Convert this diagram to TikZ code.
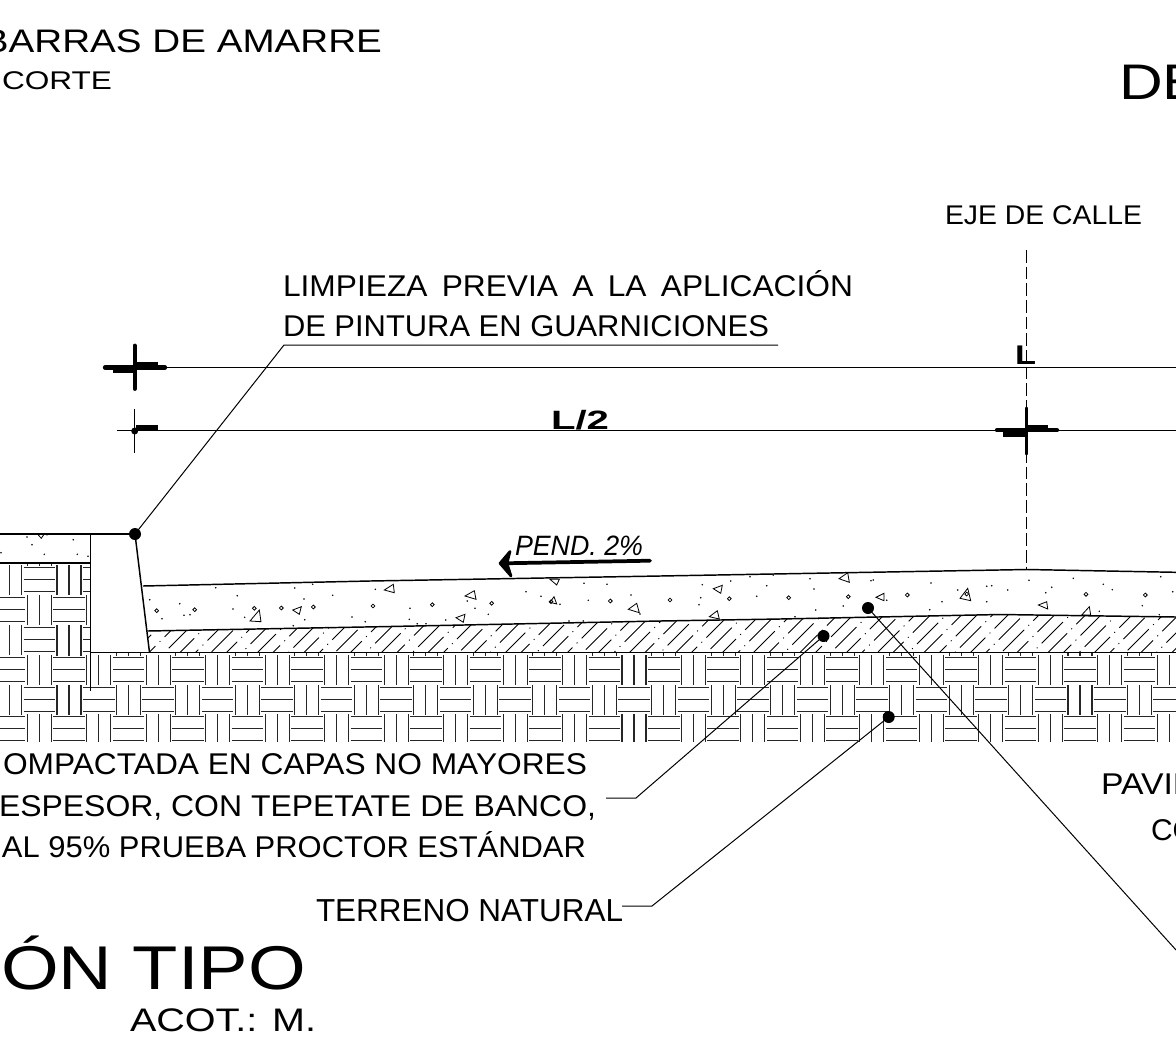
\documentclass[tikz,border=0pt]{standalone}
\usepackage{fontspec}
\usepackage{graphicx}
\setmainfont{Liberation Sans}
\newlength\twd
\newsavebox\tbox
\newcommand\tx[6]{%
  \pgfmathsetmacro\fs{#4*0.75}%
  \node[anchor=base west,inner sep=0pt,outer sep=0pt] (#1) at (#2,#3) {\fontsize{\fs pt}{\fs pt}\selectfont\sbox\tbox{#6}\setlength\twd{\wd\tbox}\pgfmathsetmacro\rr{#5*0.75/\twd}\scalebox{\rr}[1]{\usebox\tbox}};%
}
\newcommand\brickrow[2]{%
  \foreach \k in {0,...,20}{%
    \pgfmathsetmacro\X{#2+\k*59.47}%
    \foreach \d in {0,12,24}{\draw[brick] (\X+\d,#1) -- (\X+\d,#1+29.5);}%
    \foreach \d in {2.7,14.5,26.5}{\draw[brick] (\X+26,#1+\d) -- (\X+57.5,#1+\d);}%
  }%
}
\tikzset{
  brick/.style={line width=0.8pt,black!85},
  outline/.style={line width=1.1pt,black},
  leader/.style={line width=0.75pt,black},
  bullet/.style={circle,fill=black,inner sep=0pt,minimum size=9pt,outer sep=0pt},
  stone/.style={line width=0.6pt,black},
  pebble/.style={line width=0.6pt,black},
  dimline/.style={line width=0.8pt,black},
  tickbar/.style={line width=2.8pt,black,line cap=round},
}
\begin{document}
\begin{tikzpicture}[x=0.75pt,y=-0.75pt]
\useasboundingbox (0,0) rectangle (1176,1060);
\clip (0,0) rectangle (1176,1060);
\fill[white] (0,0) rectangle (1176,1060);
% brick pattern
\begin{scope}
  \clip (0,564) rectangle (90,655);
  \brickrow{565}{-2.47}
  \brickrow{595}{-32.17}
  \brickrow{625}{-2.47}
  \foreach \d in {0,12,24}{\draw[brick] (27.3+\d,563) -- (27.3+\d,566);}
\end{scope}
\begin{scope}
  \clip (0,652) rectangle (1176,741.5);
  \brickrow{655}{-32.17}
  \brickrow{685}{-2.47}
  \brickrow{714}{-32.17}
  \foreach \k in {1,...,20}{
    \pgfmathsetmacro\X{-2.47+\k*59.47}
    \foreach \d in {0,12,24}{\draw[brick] (\X+\d,652) -- (\X+\d,655.5);}
  }
\end{scope}
% hatch layer
\begin{scope}
  \clip (147.5,631) -- (380,626.7) -- (660,621) -- (780,619) -- (1000,614.5) -- (1176,617) -- (1176,652.5) -- (149.5,652.5) -- cycle;
  \foreach \k in {0,...,72}{
    \pgfmathsetmacro\xb{130+\k*15.5}
    \pgfmathsetmacro\ph{mod(\k*12,32.25)}
    \draw[line width=0.7pt,black,dash pattern=on 22.5pt off 4.5pt on 0.75pt off 4.5pt,dash phase=\ph pt] (\xb,656) -- (\xb+50,606);
  }
\end{scope}
% outlines
\draw[outline] (0,534) -- (135,534);
\draw[outline] (0,563) -- (90.5,563);
\draw[outline] (90.5,534) -- (90.5,691);
\draw[outline] (135,534) -- (149.5,652.5);
\draw[outline] (90.5,652.5) -- (1176,652.5);
\draw[outline] (143,586) -- (370,581) -- (660,576) -- (1027,569.5) -- (1176,572.3);
\draw[outline] (147.5,631) -- (380,626.7) -- (660,621) -- (780,619) -- (1000,614.5) -- (1176,617);
% pebbles
\foreach \x/\y in {156.7/610.7,194.7/609.7,254.3/608.3,281.3/608,313.3/607,373/606,432.3/604.7,491.7/603.3,551/601.7,610.3/601,670/600,729.3/598.7,788.7/597.7,848.3/596.7,907.3/595,966.7/594,1086/594.3,1145.3/595}
  {\draw[pebble] (\x,\y) circle[radius=1.9];}
% stones
\foreach \a/\b/\c/\d/\e/\f in {250/621/259.3/610/261/621.7,292.7/610/301.3/606.7/299.3/614.3,384.3/590/393.3/584.3/394.3/592.7,465/596/474.3/590.7/476/599.3,550/602.3/554/596.7/556.7/604,628.3/609.3/636.7/603.3/639.3/612.7,456/617.7/465/614.3/463.3/622.3,550/579.3/559.3/579.3/556.7/585,713.3/588.7/722.3/585.3/720.7/593.3,839/578.7/847.7/572.7/849.3/582.3,876/597.3/884/593.3/884/600.7,709.3/616.7/717.3/610.7/719.3/619,960/598.3/967.7/588.3/970.7/600.7,1038.3/605/1046.7/601.7/1047.7/609,1081.7/615/1089.3/606.7/1090.7/615,37.7/534.3/44/534.3/41.3/538.3}
  {\draw[stone] (\a,\b) -- (\c,\d) -- (\e,\f) -- cycle;}
% specks
\foreach \x/\y in {215.7/587.7,237.3/595.7,294.7/588,312.7/584.3,332.7/595.3,375.3/589.3,149.7/599.7,179.7/603.7,233/609,304/599,184/615.3,190/614.7,162/618.7,244.7/617.3,304.7/619.7,293.3/625.7,352/617,365.3/621.7,526/591.7,541/596.3,584/583.3,607/584.3,631/595,588.3/600.3,410/608.3,467.3/601,475/608.3,488.3/614.3,409.3/619.3,417.3/623.7,426/623.7,445.7/620,569/621,583.3/621,560/604.3,640/614,702.3/584.7,730.7/581,766.7/585.7,810/578.7,814/589,700.7/597.7,699/604.7,756.7/596.3,843.3/606,815.7/610,871/580.7,873.3/580,886.7/600.3,795/616.7,750/576.7,773.3/575,931/583,942/601.7,929.7/609.7,986.7/586.3,991.7/585.7,1007.7/590,986.7/601.7,1029/580.3,1045.7/592.7,1051.7/587.3,1073.3/578.3,1103.3/584.3,1112.3/589.7,1142.3/605.7,1160.7/576.7,1172.7/591.7,1099.3/611.3,957.7/590,1159.3/614.7,27/537,47/534.7,32/544.7,73.3/539.7,1/552.7,44.3/554.3,77.3/554.3,88/556.3}
  {\fill[black] (\x,\y) circle[radius=0.85];}
% axis
\draw[line width=0.7pt,dash pattern=on 9.5pt off 3pt] (1026.5,250) -- (1026.5,570);
% dimension lines
\draw[dimline] (103,367.5) -- (1176,367.5);
\draw[dimline] (117,430.3) -- (1176,430.3);
\draw[line width=0.8pt] (134.7,409) -- (134.7,453);
\draw[tickbar] (134.7,345.5) -- (134.7,389);
\draw[tickbar,line width=3.2pt] (105,367.5) -- (165,367.5);
\fill[black] (113,367) rectangle (135,373);
\fill[black] (135,362) rectangle (158,368);
\fill[black] (136,425) rectangle (158,431);
\fill[black] (134.7,431) circle[radius=3.5];
\draw[tickbar] (1026.5,408) -- (1026.5,454);
\draw[tickbar,line width=3.2pt] (997,430.3) -- (1057,430.3);
\fill[black] (1003,430) rectangle (1026,436.5);
\fill[black] (1026,425) rectangle (1048,431);
% slope arrow
\draw[line width=2.8pt,black,line cap=round] (650,560.7) -- (503,563.3);
\fill[black,draw=black,line width=2pt,line join=round] (510,551.5) -- (500,563.3) -- (511,576) -- (507,563.3) -- cycle;
% texts
\tx{t1}{-17}{52.7}{32.6}{399}{BARRAS DE AMARRE}
\tx{t2}{2}{89}{25.6}{110}{CORTE}
\tx{t3}{1119}{99.3}{50}{84}{DE}
\tx{t4}{945}{224}{27}{197}{EJE DE CALLE}
\tx{t5}{283}{296}{30}{570}{LIMPIEZA\hspace{0.45em}PREVIA\hspace{0.45em}A\hspace{0.45em}LA\hspace{0.45em}APLICACIÓN}
\tx{t6}{283}{336}{30}{486}{DE PINTURA EN GUARNICIONES}
\tx{t7}{1015}{364.5}{27}{21}{\bfseries L}
\tx{t8}{551}{429.5}{26.5}{58}{\bfseries L/2}
\tx{t9}{515}{555}{28}{128}{\itshape PEND. 2\%}
\tx{t10}{3}{774}{30}{584}{OMPACTADA EN CAPAS NO MAYORES}
\tx{t11}{-1}{816}{30}{597}{ESPESOR, CON TEPETATE DE BANCO,}
\tx{t12}{2}{857}{30}{584}{AL 95\% PRUEBA PROCTOR ESTÁNDAR}
\tx{t13}{316}{921}{31.8}{307}{TERRENO NATURAL}
\tx{t14}{1101}{794}{30}{100}{PAVIM}
\tx{t15}{1151}{840}{30}{45}{CO}
\tx{t16}{1}{989.3}{61.8}{305}{ÓN TIPO}
\tx{t17}{130}{1031.7}{32.6}{186}{ACOT.: M.}
% leaders and bullets
\node[bullet] (d1) at (135,534) {};
\node[bullet] (d2) at (823.5,636) {};
\node[bullet] (d3) at (868,608) {};
\node[bullet] (d4) at (888.7,717) {};
\coordinate (c1) at (284,345);
\coordinate (c1e) at (778,345);
\coordinate (c2) at (636,798);
\coordinate (c2e) at (606,798);
\coordinate (c3) at (1176,950);
\coordinate (c4) at (652,906);
\coordinate (c4e) at (622,906);
\draw[leader] (d1.center) -- (c1) -- (c1e);
\draw[leader] (d2.center) -- (c2) -- (c2e);
\draw[leader] (d3.center) -- (c3);
\draw[leader] (d4.center) -- (c4) -- (c4e);
\end{tikzpicture}
\end{document}
